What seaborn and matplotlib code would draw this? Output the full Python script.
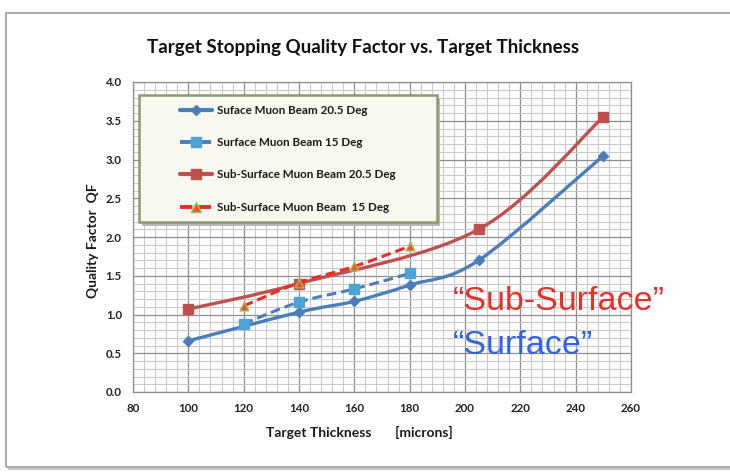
import numpy as np
import matplotlib
matplotlib.use("Agg")
import matplotlib.pyplot as plt
from matplotlib.path import Path
from matplotlib.patches import PathPatch, Rectangle, FancyBboxPatch
from matplotlib.lines import Line2D
from matplotlib.ticker import MultipleLocator, FormatStrFormatter
import seaborn as sns

# ---- data ----
surf205_x = [100, 140, 160, 180, 205, 250]
surf205_y = [0.66, 1.03, 1.17, 1.38, 1.70, 3.05]

surf15_x = [120, 140, 160, 180]
surf15_y = [0.88, 1.16, 1.33, 1.53]

sub205_x = [100, 140, 205, 250]
sub205_y = [1.07, 1.40, 2.10, 3.55]

sub15_x = [120, 140, 160, 180]
sub15_y = [1.11, 1.41, 1.62, 1.88]

labels = ["Suface Muon Beam 20.5 Deg",
          "Surface Muon Beam 15 Deg",
          "Sub-Surface Muon Beam 20.5 Deg",
          "Sub-Surface Muon Beam  15 Deg"]

sns.set_theme(style="white")
plt.rcParams["font.family"] = ["Lato", "DejaVu Sans"]

fig = plt.figure(figsize=(7.30, 4.74), dpi=100)
fig.patch.set_facecolor("white")

# outer chart-area frame
fig.add_artist(Rectangle((6 / 730, 1 - 467 / 474), 1.0, (467 - 13) / 474,
                         transform=fig.transFigure, fill=False,
                         edgecolor="#9a9a9a", linewidth=1.2, zorder=0))
fig.add_artist(Rectangle((8 / 730, 1 - 470 / 474), 1.0, 0.004,
                         transform=fig.transFigure, facecolor="#c8c8c8",
                         edgecolor="none", zorder=0))

ax = fig.add_axes([133 / 730, 1 - 392 / 474, (631 - 133) / 730, (392 - 82) / 474])
ax.set_facecolor("white")
ax.set_xlim(80, 260)
ax.set_ylim(0, 4.0)

ax.xaxis.set_major_locator(MultipleLocator(20))
ax.xaxis.set_minor_locator(MultipleLocator(4))
ax.yaxis.set_major_locator(MultipleLocator(0.5))
ax.yaxis.set_minor_locator(MultipleLocator(0.1))
ax.yaxis.set_major_formatter(FormatStrFormatter("%.1f"))

ax.grid(which="minor", color="#c9c9c9", linewidth=0.8)
ax.grid(which="major", color="#8e8e8e", linewidth=0.9)
ax.set_axisbelow(True)
for s in ax.spines.values():
    s.set_color("#8e8e8e")
    s.set_linewidth(0.9)

ax.tick_params(which="major", axis="both", direction="out", length=4,
               color="#8e8e8e", width=0.9, labelsize=8.3, pad=4)
ax.tick_params(which="minor", length=0)
for lab in ax.get_xticklabels() + ax.get_yticklabels():
    lab.set_fontweight("bold")
    lab.set_color("#222222")


def smooth_path(xs, ys):
    """Cubic Bezier path through the points (Catmull-Rom style smoothing)."""
    pts = np.column_stack([xs, ys]).astype(float)
    n = len(pts)
    verts = [pts[0]]
    codes = [Path.MOVETO]
    for i in range(n - 1):
        p0 = pts[i - 1] if i > 0 else pts[i]
        p1 = pts[i]
        p2 = pts[i + 1]
        p3 = pts[i + 2] if i + 2 < n else pts[i + 1]
        verts += [p1 + (p2 - p0) / 6.0, p2 - (p3 - p1) / 6.0, p2]
        codes += [Path.CURVE4] * 3
    return Path(verts, codes)


blue = "#4a7ebb"
light_blue = "#4ba3d6"
red = "#c0504d"
bright_red = "#ee2b24"

series = [
    dict(x=surf205_x, y=surf205_y, color=blue, ls="-", lw=2.4,
         marker="D", s=26, fc=blue, ec=blue, z=3),
    dict(x=surf15_x, y=surf15_y, color=blue, ls=(0, (3.2, 1.6)), lw=2.2,
         marker="s", s=48, fc=light_blue, ec=light_blue, z=4),
    dict(x=sub205_x, y=sub205_y, color=red, ls="-", lw=2.4,
         marker="s", s=50, fc=red, ec=red, z=3),
    dict(x=sub15_x, y=sub15_y, color=bright_red, ls=(0, (3.2, 1.6)), lw=2.2,
         marker="^", s=40, fc="#e8572e", ec="#a9b956", z=5),
]

handles = []
for sr, lab in zip(series, labels):
    ax.add_patch(PathPatch(smooth_path(sr["x"], sr["y"]), fill=False,
                           edgecolor=sr["color"], linewidth=sr["lw"],
                           linestyle=sr["ls"], capstyle="butt",
                           zorder=sr["z"]))
    sns.scatterplot(x=sr["x"], y=sr["y"], ax=ax, marker=sr["marker"],
                    s=sr["s"], color=sr["fc"], edgecolor=sr["ec"],
                    linewidth=1.0, zorder=sr["z"] + 0.5, legend=False)
    handles.append(Line2D([], [], color=sr["color"], lw=sr["lw"] + 0.6,
                          linestyle=sr["ls"], marker=sr["marker"],
                          markersize=np.sqrt(sr["s"]) * 1.05,
                          markerfacecolor=sr["fc"], markeredgecolor=sr["ec"]))

# legend panel
bx0, bx1 = (139 - 133) / 498, (437 - 133) / 498
by0, by1 = (392 - 222) / 310, (392 - 95) / 310
ax.add_patch(FancyBboxPatch((bx0 + 0.006, by0 - 0.012), bx1 - bx0, by1 - by0,
                            boxstyle="square,pad=0", transform=ax.transAxes,
                            facecolor="#b9b9b0", edgecolor="none",
                            zorder=8, clip_on=False))
ax.add_patch(FancyBboxPatch((bx0, by0), bx1 - bx0, by1 - by0,
                            boxstyle="square,pad=0", transform=ax.transAxes,
                            facecolor="#f8f8ee", edgecolor="#8c9a70",
                            linewidth=1.8, zorder=9, clip_on=False))
leg = ax.legend(handles=handles, labels=labels, loc="upper left",
                bbox_to_anchor=((180 - 133) / 498, (392 - 105) / 310),
                frameon=False, handlelength=2.75,
                handletextpad=0.43, labelspacing=1.82, borderpad=0,
                borderaxespad=0, prop=dict(weight="bold", size=8.4))
leg.set_zorder(10)
for t in leg.get_texts():
    t.set_color("#1a1a1a")

# axis titles
ax.set_xlabel("Target Thickness       [microns]", fontsize=10,
              fontweight="bold", color="#1a1a1a")
ax.xaxis.set_label_coords((359 - 133) / 498, (392 - 432) / 310)
ax.xaxis.label.set_va("center")
ax.set_ylabel("Quality Factor  QF", fontsize=10, fontweight="bold",
              color="#1a1a1a")
ax.yaxis.set_label_coords((93 - 133) / 498, (392 - 241) / 310)
ax.yaxis.label.set_va("center")

fig.text(363 / 730, 1 - 48 / 474,
         "Target Stopping Quality Factor vs. Target Thickness",
         ha="center", va="center", fontsize=13.5, fontweight="bold",
         color="#111111")

# region labels
fig.text(453 / 730, 1 - 302 / 474, "\u201cSub-Surface\u201d",
         ha="left", va="center", fontsize=24.5, color="#e8302b",
         family=["Liberation Sans", "DejaVu Sans"])
fig.text(453 / 730, 1 - 345 / 474, "\u201cSurface\u201d",
         ha="left", va="center", fontsize=24.5, color="#2f64e6",
         family=["Liberation Sans", "DejaVu Sans"])

fig.savefig("out.png", dpi=100, facecolor="white")
